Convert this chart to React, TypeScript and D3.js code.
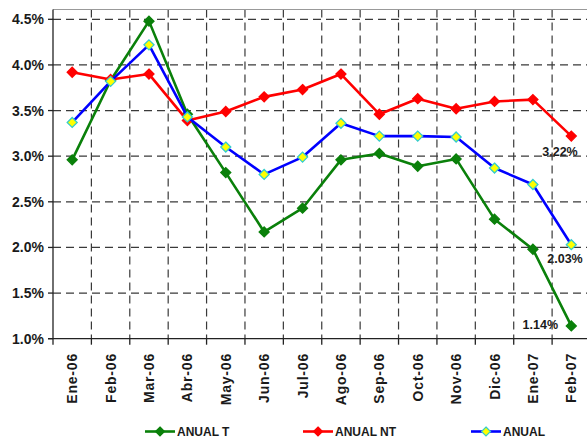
import React from "react";
import * as d3 from "d3";

const categories = ["Ene-06","Feb-06","Mar-06","Abr-06","May-06","Jun-06","Jul-06","Ago-06","Sep-06","Oct-06","Nov-06","Dic-06","Ene-07","Feb-07"];
const anualT = [2.96, 3.83, 4.48, 3.46, 2.82, 2.17, 2.43, 2.96, 3.03, 2.89, 2.97, 2.31, 1.98, 1.14];
const anualNT = [3.92, 3.84, 3.90, 3.39, 3.49, 3.65, 3.73, 3.90, 3.46, 3.63, 3.52, 3.60, 3.62, 3.22];
const anual = [3.37, 3.82, 4.22, 3.43, 3.10, 2.80, 2.99, 3.36, 3.22, 3.22, 3.21, 2.87, 2.69, 2.03];
const yTicks = [1.0, 1.5, 2.0, 2.5, 3.0, 3.5, 4.0, 4.5];
const endLabels = ["1.14%", "3.22%", "2.03%"];

const W = 587, H = 441;
const left = 53, right = 590.5, top = 9.5, bottom = 338.7;

export default function App() {
  const x = d3.scaleBand<string>().domain(categories).range([left, right]);
  const y = d3.scaleLinear().domain([1.0, 4.5]).range([bottom, 19.3]);
  const cx = (c: string) => (x(c) as number) + x.bandwidth() / 2;
  const line = d3.line<number>().x((_, i) => cx(categories[i])).y(d => y(d));
  const font = "'Liberation Sans', Arial, sans-serif";
  const diamond = (px: number, py: number, r: number) =>
    `M${px},${py - r}L${px + r},${py}L${px},${py + r}L${px - r},${py}Z`;

  const series = [
    { name: "ANUAL T", data: anualT, color: "#0a800a", fill: "#0a800a", stroke: "#0a800a" },
    { name: "ANUAL NT", data: anualNT, color: "#ff0000", fill: "#ff0000", stroke: "#ff0000" },
    { name: "ANUAL", data: anual, color: "#0000ff", fill: "#ffff00", stroke: "#33cccc" },
  ];
  const last = categories[categories.length - 1];
  const boundaries = categories.map(c => x(c) as number).concat([right]);

  return (
    <svg width={W} height={H} style={{ position: "absolute", left: 0, top: 0, background: "#fff" }}>
      <rect x={0} y={0} width={W} height={H} fill="#fff" />
      {/* end labels (under grid) */}
      <g fontFamily={font} fontWeight="bold" fontSize={12.5} fill="#1a1a1a">
        <text x={558} y={325} dy="0.35em" textAnchor="end">{endLabels[0]}</text>
        <text x={560} y={151.5} dy="0.35em" textAnchor="middle">{endLabels[1]}</text>
        <text x={565} y={259} dy="0.35em" textAnchor="middle">{endLabels[2]}</text>
      </g>
      {/* grid */}
      <g stroke="#3a3a3a" strokeWidth={1.2} strokeDasharray="8,5">
        {yTicks.filter(t => t > 1.0).map(t => (
          <line key={"h" + t} x1={left} x2={right} y1={y(t)} y2={y(t)} />
        ))}
        {boundaries.slice(1).map((b, i) => (
          <line key={"v" + i} x1={b} x2={b} y1={top} y2={bottom} />
        ))}
      </g>
      <line x1={left} x2={right} y1={top} y2={top} stroke="#999" strokeWidth={1} />
      {/* axes */}
      <line x1={left} x2={left} y1={top} y2={bottom} stroke="#222" strokeWidth={1.3} />
      <line x1={left - 5} x2={right} y1={bottom} y2={bottom} stroke="#222" strokeWidth={1.3} />
      {yTicks.map(t => (
        <line key={"yt" + t} x1={left - 5} x2={left} y1={y(t)} y2={y(t)} stroke="#222" strokeWidth={1.3} />
      ))}
      {boundaries.map((b, i) => (
        <line key={"xt" + i} x1={b} x2={b} y1={bottom} y2={bottom + 6} stroke="#222" strokeWidth={1.3} />
      ))}
      <g fontFamily={font} fontWeight="bold" fontSize={14} fill="#1a1a1a">
        {yTicks.map(t => (
          <text key={"yl" + t} x={44} y={y(t)} dy="0.36em" textAnchor="end">{t.toFixed(1) + "%"}</text>
        ))}
        {categories.map(c => (
          <text key={"xl" + c} transform={`translate(${cx(c) + 5},${353}) rotate(-90)`} textAnchor="end" letterSpacing={0.8}>{c}</text>
        ))}
      </g>
      {/* series */}
      {series.map(s => (
        <g key={s.name}>
          <path d={line(s.data) as string} fill="none" stroke={s.color} strokeWidth={2.6} strokeLinejoin="round" />
          {s.data.map((v, i) => (
            <path key={i} d={diamond(cx(categories[i]), y(v), 5)} fill={s.fill} stroke={s.stroke} strokeWidth={1.3} />
          ))}
        </g>
      ))}
      {/* legend */}
      {[{ s: series[0], lx: 145 }, { s: series[1], lx: 303 }, { s: series[2], lx: 471 }].map(({ s, lx }) => (
        <g key={"lg" + s.name}>
          <line x1={lx} x2={lx + 30} y1={431.5} y2={431.5} stroke={s.color} strokeWidth={2.6} />
          <path d={diamond(lx + 15, 431.5, 4.5)} fill={s.fill} stroke={s.stroke} strokeWidth={1.2} />
          <text x={lx + 32} y={431.5} dy="0.36em" fontFamily={font} fontWeight="bold" fontSize={12} fill="#1a1a1a">{s.name}</text>
        </g>
      ))}
    </svg>
  );
}
